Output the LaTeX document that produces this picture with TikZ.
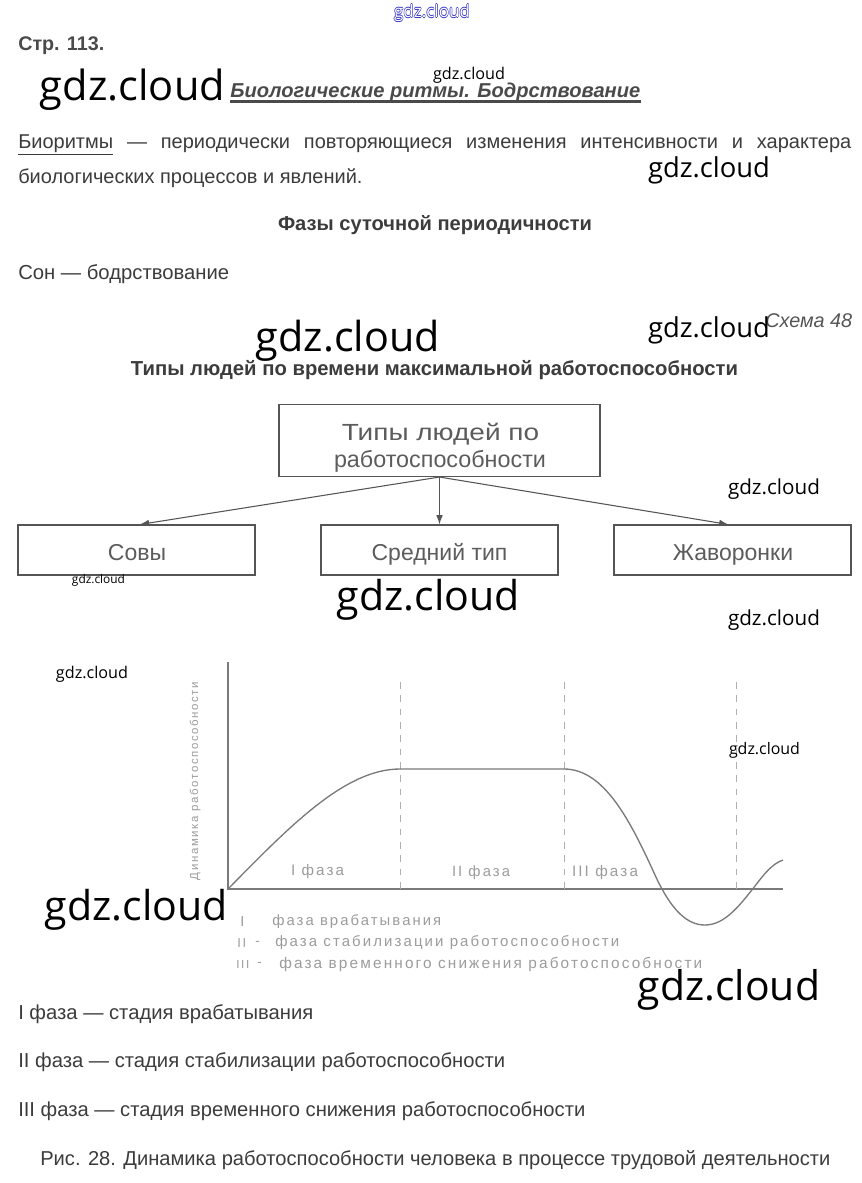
\documentclass[tikz,border=0pt]{standalone}
\usepackage{fontspec}
\setmainfont{Liberation Sans}
\newfontfamily\wm{Open Sans}
\newfontfamily\scan[LetterSpace=14]{Liberation Sans}
\usepackage{graphicx}
\usetikzlibrary{arrows.meta}
\newdimen\pxu \pxu=0.75pt
\newcommand{\fitt}[2]{\resizebox{#1\pxu}{!}{#2}}
\definecolor{txt}{HTML}{3C3C3C}
\definecolor{head}{HTML}{4A4A4A}
\definecolor{boxc}{HTML}{555555}
\definecolor{boxt}{HTML}{5C5C5C}
\definecolor{scang}{HTML}{9C9C9C}
\definecolor{scanl}{HTML}{7A7A7A}
\definecolor{scand}{HTML}{B0B0B0}
\definecolor{wblue}{HTML}{3A3AC8}
\newcommand{\outl}[1]{\leavevmode
  \rlap{\textcolor{wblue}{\kern0.35pt#1}}%
  \rlap{\textcolor{wblue}{\kern-0.35pt#1}}%
  \rlap{\textcolor{wblue}{\raisebox{0.35pt}{#1}}}%
  \rlap{\textcolor{wblue}{\raisebox{-0.35pt}{#1}}}%
  \textcolor{white}{#1}}
\begin{document}
\begin{tikzpicture}[x=0.75pt,y=-0.75pt,
  lbl/.style={inner sep=0pt,anchor=west,text=txt},
  body/.style={lbl,font=\fontsize{15}{18}\selectfont},
  wmark/.style={inner sep=0pt,text=black,font=\wm},
  typebox/.style={draw=boxc,line width=0.8pt,inner sep=0pt},
  boxtext/.style={inner sep=0pt,text=boxt,anchor=base,font=\fontsize{17.25}{20.25}\selectfont},
  conn/.style={draw=boxc,line width=0.8pt,-{Latex[length=7pt,width=5pt]}},
  scantxt/.style={inner sep=0pt,text=scang},
  axisl/.style={draw=scanl,line width=0.8pt},
  dashl/.style={draw=scand,line width=0.7pt,dash pattern=on 5pt off 5pt},
  curve/.style={draw=scanl,line width=1pt}]
\useasboundingbox (0,0) rectangle (862,1183);
\fill[white] (0,0) rectangle (862,1183);

% header
\node[lbl,text=head] (page) at (18,46) {\fitt{86}{\bfseries Стр. 113.}};
\node[lbl,text=head] (title) at (230,92) {\fitt{410}{\bfseries\itshape Биологические ритмы. Бодрствование}};
\draw[head,line width=2.2pt] (title.south west) coordinate (ul1) -- (title.south east |- ul1);

\node[body] (bio1) at (18,145) {\makebox[624.75pt][s]{\underline{Биоритмы} — периодически повторяющиеся изменения интенсивности и характера}};
\node[body] (bio2) at (18,178) {биологических процессов и явлений.};
\node[text=txt,inner sep=0pt] (phases) at (435,225) {\fitt{314}{\bfseries Фазы суточной периодичности}};
\node[body] (sleep) at (18,274) {\fitt{211}{Сон — бодрствование}};
\node[lbl,text=boxc] (schema) at (765,321) {\fitt{87}{\itshape Схема 48}};
\node[text=txt,inner sep=0pt] (types) at (434.5,370) {\fitt{607}{\bfseries Типы людей по времени максимальной работоспособности}};

% diagram
\node[typebox,minimum width=240.75pt,minimum height=54pt] (top) at (439.5,440.5) {};
\node[boxtext,font=\fontsize{17.5}{21}\selectfont] (top1) at (440.5,440) {\scalebox{1.2}[1]{Типы людей по}};
\node[boxtext,font=\fontsize{17.5}{21}\selectfont] (top2) at (440,467.5) {\scalebox{1.0}[1]{работоспособности}};
\node[typebox,minimum width=177.75pt,minimum height=37.5pt] (owls) at (136.5,550) {};
\node[typebox,minimum width=177.75pt,minimum height=37.5pt] (mid) at (439.5,550) {};
\node[typebox,minimum width=177.75pt,minimum height=37.5pt] (larks) at (732.5,550) {};
\node[boxtext] (owlst) at (137,560) {Совы};
\node[boxtext] (midt) at (439.5,560) {Средний тип};
\node[boxtext] (larkst) at (733,560) {Жаворонки};
\draw[conn] (top.south) -- ([xshift=2.5pt]owls.north);
\draw[conn] (top.south) -- (mid.north);
\draw[conn] (top.south) -- ([xshift=-3pt]larks.north);

% chart
\coordinate (O) at (228,889);
\coordinate (Ytop) at (228,662);
\coordinate (Xend) at (783,889);
\draw[axisl] (Ytop) -- (O) -- (Xend);
\coordinate (d1t) at (400,682); \coordinate (d1b) at (400,889);
\coordinate (d2t) at (564,682); \coordinate (d2b) at (564,889);
\coordinate (d3t) at (736,682); \coordinate (d3b) at (736,889);
\draw[dashl] (d1t) -- (d1b);
\draw[dashl] (d2t) -- (d2b);
\draw[dashl] (d3t) -- (d3b);
\draw[curve] (O) .. controls (290,826) and (345,769) .. (400,769) -- (564,769)
  .. controls (604,769) and (630,820) .. (655,875)
  .. controls (672,912) and (688,925) .. (705,925)
  .. controls (725,925) and (740,905) .. (755,886)
  .. controls (765,873) and (772,864) .. (783,860);
\node[scantxt,rotate=90] (ylab) at (195,781) {\fitt{198}{\scan Динамика работоспособности}};
\node[scantxt] (ph1) at (317.5,872) {\fitt{53}{\scan I фаза}};
\node[scantxt] (ph2) at (481,873) {\fitt{58}{\scan II фаза}};
\node[scantxt] (ph3) at (605,873) {\fitt{66}{\scan III фаза}};

\node[scantxt,anchor=west] (l1n) at (240,922) {\fitt{4}{\scan I}};
\node[scantxt,anchor=west] (l1t) at (272,922) {\fitt{169}{\scan фаза врабатывания}};
\node[scantxt,anchor=west] (l2n) at (237,943) {\fitt{9}{\scan II}};
\node[scantxt,anchor=west] (l2d) at (255,943) {\scan -};
\node[scantxt,anchor=west] (l2t) at (275,943) {\fitt{344}{\scan фаза стабилизации работоспособности}};
\node[scantxt,anchor=west] (l3n) at (236,964) {\fitt{13}{\scan III}};
\node[scantxt,anchor=west] (l3d) at (257,964) {\scan -};
\node[scantxt,anchor=west] (l3t) at (279,964) {\fitt{423}{\scan фаза временного снижения работоспособности}};

% bottom text
\node[body] (f1) at (18,1014) {\fitt{295}{I фаза — стадия врабатывания}};
\node[body] (f2) at (18,1062) {\fitt{487}{II фаза — стадия стабилизации работоспособности}};
\node[body] (f3) at (18,1111) {\fitt{567}{III фаза — стадия временного снижения работоспособности}};
\node[body] (cap) at (40,1160) {\fitt{790}{Рис. 28. Динамика работоспособности человека в процессе трудовой деятельности}};

% watermarks
\node[wmark] (w0) at (432,13) {\fitt{76}{\outl{gdz.cloud}}};
\node[wmark] (w1) at (132.5,90) {\fitt{185}{gdz.cloud}};
\node[wmark] (w2) at (469,75) {\fitt{72}{gdz.cloud}};
\node[wmark] (w3) at (709,170) {\fitt{122}{gdz.cloud}};
\node[wmark] (w4) at (348,341) {\fitt{184}{gdz.cloud}};
\node[wmark] (w5) at (709,330) {\fitt{122}{gdz.cloud}};
\node[wmark] (w6) at (774,489) {\fitt{92}{gdz.cloud}};
\node[wmark] (w7) at (98.5,580) {\fitt{53}{gdz.cloud}};
\node[wmark] (w8) at (428.5,600) {\fitt{183}{gdz.cloud}};
\node[wmark] (w9) at (774,620) {\fitt{92}{gdz.cloud}};
\node[wmark] (w10) at (92,674) {\fitt{72}{gdz.cloud}};
\node[wmark] (w11) at (764.5,750) {\fitt{71}{gdz.cloud}};
\node[wmark] (w12) at (136.5,910) {\fitt{183}{gdz.cloud}};
\node[wmark] (w13) at (729,990) {\fitt{182}{gdz.cloud}};
\end{tikzpicture}
\end{document}
